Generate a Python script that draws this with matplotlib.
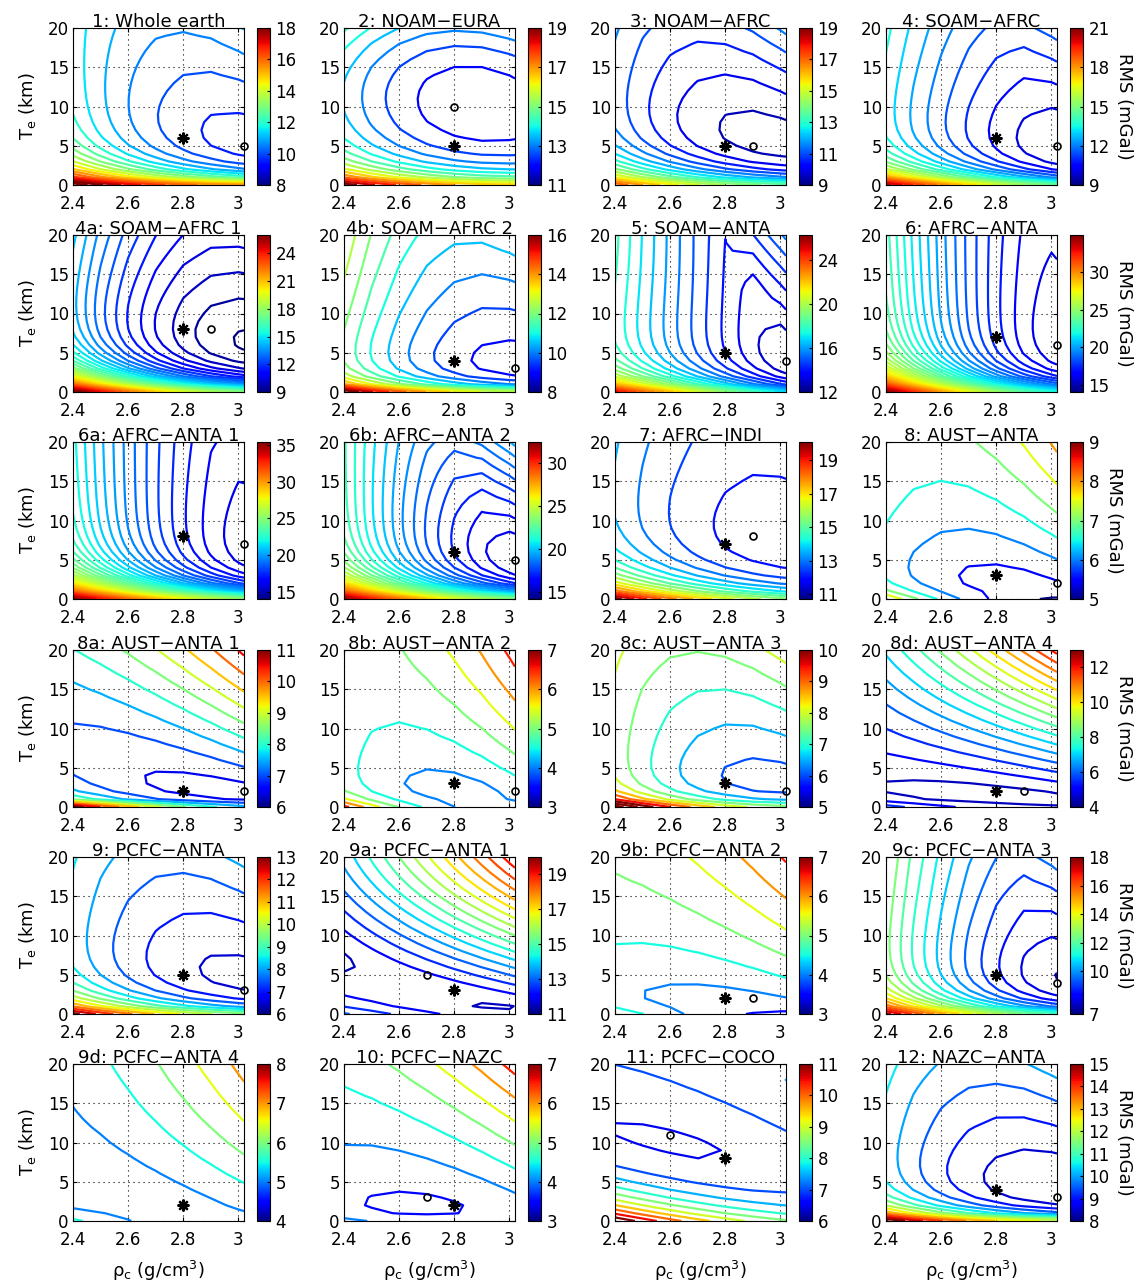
import numpy as np
import matplotlib
matplotlib.use('Agg')
import matplotlib.pyplot as plt
from matplotlib.colors import Normalize
from matplotlib.cm import ScalarMappable

plt.rcParams['font.family'] = ['DejaVu Sans']
plt.rcParams['mathtext.fontset'] = 'dejavusans'

# grid of the misfit surface
rho_grid = np.append(np.arange(2.4, 3.01, 0.1), 3.02)
te_grid = np.arange(0, 21, 1.0)

titles = ['1: Whole earth', '2: NOAM\u2212EURA', '3: NOAM\u2212AFRC', '4: SOAM\u2212AFRC',
          '4a: SOAM\u2212AFRC 1', '4b: SOAM\u2212AFRC 2', '5: SOAM\u2212ANTA', '6: AFRC\u2212ANTA',
          '6a: AFRC\u2212ANTA 1', '6b: AFRC\u2212ANTA 2', '7: AFRC\u2212INDI', '8: AUST\u2212ANTA',
          '8a: AUST\u2212ANTA 1', '8b: AUST\u2212ANTA 2', '8c: AUST\u2212ANTA 3', '8d: AUST\u2212ANTA 4',
          '9: PCFC\u2212ANTA', '9a: PCFC\u2212ANTA 1', '9b: PCFC\u2212ANTA 2', '9c: PCFC\u2212ANTA 3',
          '9d: PCFC\u2212ANTA 4', '10: PCFC\u2212NAZC', '11: PCFC\u2212COCO', '12: NAZC\u2212ANTA']

cb_lo = [8, 11, 9, 9, 9, 8, 12, 14, 14, 14.2, 10.7, 5, 6, 3, 5, 4, 6, 11, 3, 7, 4, 3, 6, 8]
cb_hi = [18, 19, 19, 21, 26, 16, 26.3, 35, 35.4, 32.4, 20.1, 9, 11, 7, 10, 13, 13, 20, 7, 18, 8, 7, 11, 15]
cb_ticks = [[8, 10, 12, 14, 16, 18], [11, 13, 15, 17, 19], [9, 11, 13, 15, 17, 19], [9, 12, 15, 18, 21],
            [9, 12, 15, 18, 21, 24], [8, 10, 12, 14, 16], [12, 16, 20, 24], [15, 20, 25, 30],
            [15, 20, 25, 30, 35], [15, 20, 25, 30], [11, 13, 15, 17, 19], [5, 6, 7, 8, 9],
            [6, 7, 8, 9, 10, 11], [3, 4, 5, 6, 7], [5, 6, 7, 8, 9, 10], [4, 6, 8, 10, 12],
            [6, 7, 8, 9, 10, 11, 12, 13], [11, 13, 15, 17, 19], [3, 4, 5, 6, 7], [7, 10, 12, 14, 16, 18],
            [4, 5, 6, 7, 8], [3, 4, 5, 6, 7], [6, 7, 8, 9, 10, 11], [8, 9, 10, 11, 12, 13, 14, 15]]

star_rho = [2.8] * 24
star_te = [6, 5, 5, 6, 8, 4, 5, 7, 8, 6, 7, 3, 2, 3, 3, 2, 5, 3, 2, 5, 2, 2, 8, 4]
circ_rho = [3.02, 2.8, 2.9, 3.02, 2.9, 3.02, 3.02, 3.02, 3.02, 3.02, 2.9, 3.02,
            3.02, 3.02, 3.02, 2.9, 3.02, 2.7, 2.9, 3.02, 2.8, 2.7, 2.6, 3.02]
circ_te = [5, 10, 5, 5, 8, 3, 4, 6, 7, 5, 8, 2, 2, 2, 2, 2, 3, 5, 2, 4, 2, 3, 11, 3]

# misfit surface description for each panel (mGal)
base = [8.55, 11.6, 8.3, 8.7, 7.7, 8.2, 11.9, 15.1, 15.1, 14.2, 11.2, 3.72,
        5.53, 2.43, 5.2, 3.5, 5.7, 11.0, 2.55, 6.7, 3.65, 3.08, 5.25, 7.4]
te_slope = [0.1, 0, 0.12, 0.13, 0.15, 0.12, 0.1, 0.05, 0.06, 0.2, 0.05, 0.31,
            0.45, 0.27, 0.1, 0.16, 0.1, 0.06, 0.4, 0.13, 0.27, 0.067, 0.08, 0.12]
te_pow = [1, 1, 1, 1, 1, 1, 1, 1, 1, 1, 1, 0.5,
          0.5, 0.5, 1, 1, 1, 1, 0.5, 1, 0.5, 1, 1, 1]
cross = [0, 0, 0, 0, 0, 0, 0, 0, 0, 0, 0, 3.5,
         0, 4.0, 0.5, 2.75, 0, 5.9, 2.0, 0, 3.0, 2.4, 0, 0]
te_curv = [0, 0.015, 0, 0, 0, 0, 0, 0, 0, 0, 0, 0,
           0, 0, 0, 0, 0, 0, 0, 0, 0, 0, 0, 0]
te_best = [0, 10, 0, 0, 0, 0, 0, 0, 0, 0, 0, 0,
           0, 0, 0, 0, 0, 0, 0, 0, 0, 0, 0, 0]
rho_curv = [7, 6.4, 6, 7, 13, 7, 8.6, 17, 14, 14, 5, 6,
            4.5, 7.7, 7, 2, 5, 3, 2.5, 10, 2.0, 3, 4, 6]
curv_te = [0.01, 0.02, 0.03, 0.01, 0, 0.03, 0.02, 0, 0, 0.01, 0, 0,
           -0.015, -0.02, 0, 0, 0.02, -0.03, 0, 0.01, 0, 0, -0.045, 0.01]
rho_best = [3.1, 2.97, 3.0, 3.1, 3.05, 3.05, 3.06, 3.06, 3.08, 3.1, 3.0, 2.95,
            3.37, 2.88, 3.0, 2.85, 3.05, 3.05, 2.95, 3.08, 2.8, 2.7, 3.3, 3.05]
rho_shift = [-0.016, -0.008, -0.015, -0.0125, -0.005, -0.01, -0.012, -0.004, -0.005, -0.015, -0.004, 0,
             -0.3, 0, -0.012, 0, -0.015, -0.09, 0, -0.01, 0, 0, -0.07, -0.015]
rho_pow = [2, 2, 2, 1.6, 2, 2, 1.2, 1.6, 1.6, 1.6, 2, 2,
           2, 2, 2, 2, 2, 1.5, 2, 1.6, 2, 2, 2, 2]
low_amp = [7, 3.5, 5.5, 6, 10, 4.5, 5, 7, 10, 9, 4.5, 1.2,
           1.56, 1.2, 2.5, 1.0, 4, 0.5, 0.8, 5, 0.8, 0.6, 3, 5]
low_len = [1.5, 1.5, 1.8, 1.4, 1.8, 1.0, 1.3, 1.5, 1.5, 1.5, 2.0, 1.5,
           0.8, 1.3, 1.2, 1.0, 1.5, 1.0, 1.2, 1.4, 1.8, 1.0, 5.0, 1.2]
low_spread = [1.1, 0.5, 1, 1, 0.8, 0.8, 1, 1, 1, 1, 0.8, 0,
              0, 0, 0.3, 0, 1, 0, 0, 1, 0, 0, 0, 1]
low_rho = [0.0, 0.3, 0.4, 0.5, 0.5, 0.3, 0.8, 0.8, 0.4, 0.2, 0.8, 1.2,
           0.0, 1.2, 0.6, 1.0, 0.5, 0.0, 1.2, 0.2, 1.2, 0.5, 0.0, 0.2]

W, H = 1139.0, 1285.0
col_left = [73, 344, 615, 886]
row_top = [28, 235, 442, 650, 857, 1064]
ax_w, ax_h = 171, 157

fig = plt.figure(figsize=(W / 100, H / 100), dpi=100)
R, U = np.meshgrid(rho_grid, te_grid)

for i in range(24):
    row, col = i // 4, i % 4
    ax = fig.add_axes([col_left[col] / W, 1 - (row_top[row] + ax_h) / H, ax_w / W, ax_h / H])
    Ue = U ** te_pow[i]
    decay = low_len[i] * (1 + low_spread[i] * (3.0 - R))
    F = (base[i] + te_slope[i] * Ue * (1 + cross[i] * (R - 2.4))
         + te_curv[i] * (U - te_best[i]) ** 2
         + rho_curv[i] * (1 + curv_te[i] * U) * np.abs(R - rho_best[i] - rho_shift[i] * Ue) ** rho_pow[i]
         + low_amp[i] * np.exp(-U / decay + low_rho[i] * (3.0 - R)))
    levels = np.arange(np.ceil(F.min() * 2) / 2, F.max(), 0.5)
    norm = Normalize(cb_lo[i], cb_hi[i])
    ax.contour(R, U, F, levels=levels, cmap='jet', norm=norm, linewidths=1.6)
    ax.plot(star_rho[i], star_te[i], marker=(8, 2, 0), color='k', ms=8.5, mew=1.5, clip_on=False)
    ax.plot(circ_rho[i], circ_te[i], marker='o', mfc='none', mec='k', ms=5, mew=1.2, clip_on=False)
    ax.set_xlim(2.4, 3.02)
    ax.set_ylim(0, 20)
    ax.set_xticks([2.4, 2.6, 2.8, 3.0])
    ax.set_xticklabels(['2.4', '2.6', '2.8', '3'])
    ax.set_yticks([0, 5, 10, 15, 20])
    ax.grid(True, linestyle=(0, (1, 3.5)), color='k', linewidth=0.8)
    ax.tick_params(direction='in', top=True, right=True, length=3, labelsize=12)
    ax.tick_params(axis='x', pad=7.5)
    ax.tick_params(axis='y', pad=3)
    ax.set_title(titles[i], fontsize=13, pad=1)
    if col == 0:
        ax.set_ylabel('T$_\\mathrm{e}$ (km)', fontsize=13, labelpad=7)
    if row == 5:
        ax.set_xlabel('\u03c1$_\\mathrm{c}$ (g/cm$^3$)', fontsize=13, labelpad=7)

    cax = fig.add_axes([(col_left[col] + 184) / W, 1 - (row_top[row] + ax_h) / H, 13 / W, ax_h / H])
    cb = fig.colorbar(ScalarMappable(norm=norm, cmap='jet'), cax=cax, ticks=cb_ticks[i])
    cb.ax.tick_params(labelsize=12, direction='in', length=2, pad=4)
    cb.outline.set_linewidth(0.8)
    if col == 3:
        cb.set_label('RMS (mGal)', rotation=270, fontsize=13, labelpad=17)

plt.savefig('out.png', dpi=100)
